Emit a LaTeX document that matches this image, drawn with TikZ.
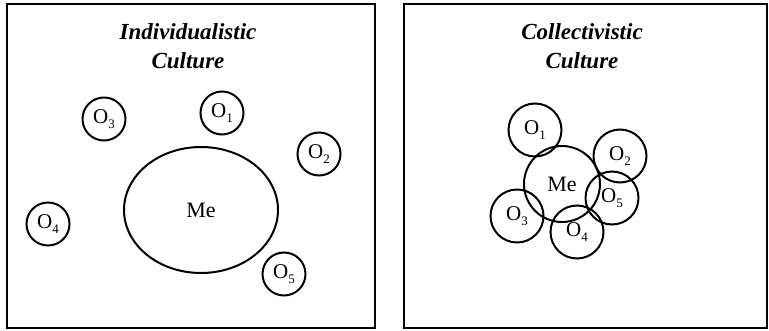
\documentclass[tikz,border=0pt]{standalone}
\usepackage{fontspec}
\setmainfont{Liberation Serif}
\usetikzlibrary{shapes.geometric}
\newcommand\osub[1]{O\raisebox{-0.45ex}{\fontsize{13}{13}\selectfont #1}}
\begin{document}
\begin{tikzpicture}[x=1pt,y=-1pt,
  panel/.style={draw,line width=1.8pt},
  other/.style={draw,circle,line width=2pt,inner sep=0pt,font=\fontsize{21}{21}\selectfont},
  title/.style={font=\fontsize{23}{29}\selectfont\bfseries\itshape,align=center}]
\useasboundingbox (0,0) rectangle (769,331);
\draw[panel] (7,4) rectangle (375,328);
\draw[panel] (404,4) rectangle (767,328);
% left panel
\node[title] (t1) at (188,46) {Individualistic\\Culture};
\node[draw,ellipse,line width=2pt,minimum width=154pt,minimum height=126pt,inner sep=0pt,font=\fontsize{22}{22}\selectfont] (me1) at (201,210) {Me};
\node[other,minimum size=43pt] (a3) at (104,119) {\osub{3}};
\node[other,minimum size=43pt] (a1) at (222,113) {\osub{1}};
\node[other,minimum size=43pt] (a2) at (319,154) {\osub{2}};
\node[other,minimum size=43pt] (a4) at (48,224) {\osub{4}};
\node[other,minimum size=43pt] (a5) at (284,274) {\osub{5}};
% right panel
\node[title] (t2) at (582,46) {Collectivistic\\Culture};
\node[other,minimum size=76pt,font=\fontsize{22}{22}\selectfont] (me2) at (562,184) {Me};
\node[other,minimum size=53pt] (b1) at (535,130) {\osub{1}};
\node[other,minimum size=53pt] (b2) at (620,156) {\osub{2}};
\node[other,minimum size=53pt] (b5) at (612,198) {\osub{5}};
\node[other,minimum size=53pt] (b3) at (517,216) {\osub{3}};
\node[other,minimum size=53pt] (b4) at (577,232) {\osub{4}};
\end{tikzpicture}
\end{document}
